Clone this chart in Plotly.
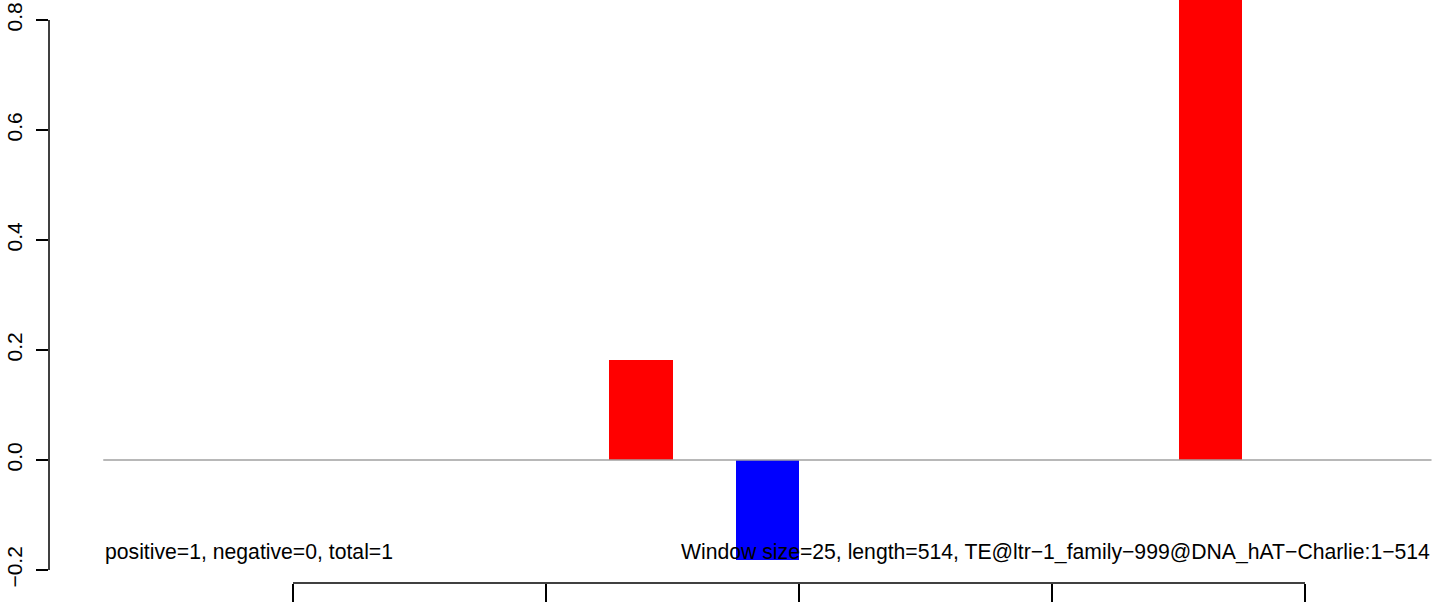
import plotly.graph_objects as go

# ---- data ----
window_starts = [225, 275, 450]          # bp, start of each non-empty window
window_values = [0.182, -0.182, 1.0]     # signed score per window
window_size = 25
baseline_x = [25, 550]                   # extent of the windowed sequence (bp)
x_tickvals = [100, 200, 300, 400, 500]
y_tickvals = [-0.2, 0.0, 0.2, 0.4, 0.6, 0.8]
y_ticktext = ["\u22120.2", "0.0", "0.2", "0.4", "0.6", "0.8"]
left_label = "positive=1, negative=0, total=1"
right_label = "Window size=25, length=514, TE@ltr\u22121_family\u2212999@DNA_hAT\u2212Charlie:1\u2212514"

FONT = "Liberation Sans, Arial, Helvetica, sans-serif"

centers = [s + window_size / 2 for s in window_starts]
colors = ["#FF0000" if v >= 0 else "#0000FF" for v in window_values]

fig = go.Figure()
fig.add_trace(go.Scatter(
    x=baseline_x, y=[0, 0], mode="lines",
    line=dict(color="#A0A0A0", width=1.3), hoverinfo="skip", showlegend=False,
))
fig.add_trace(go.Bar(
    x=centers, y=window_values, width=[window_size] * len(centers),
    marker=dict(color=colors, line=dict(width=0)), showlegend=False,
))

fig.add_annotation(x=baseline_x[0], y=-0.167, text=left_label, xanchor="left",
                   yanchor="middle", showarrow=False,
                   font=dict(family=FONT, size=21.2, color="black"))
fig.add_annotation(x=baseline_x[1], y=-0.167, text=right_label, xanchor="right",
                   yanchor="middle", showarrow=False,
                   font=dict(family=FONT, size=21.2, color="black"))

# R-style axis lines spanning first to last tick
fig.add_shape(type="line", xref="paper", yref="y", x0=0, x1=0,
              y0=min(y_tickvals), y1=max(y_tickvals),
              line=dict(color="black", width=1.5))
fig.add_shape(type="line", xref="x", yref="paper", x0=min(x_tickvals),
              x1=max(x_tickvals), y0=0, y1=0,
              line=dict(color="black", width=1.5))

fig.update_layout(
    width=1444, height=602,
    margin=dict(l=49, r=0, t=0, b=19),
    plot_bgcolor="white", paper_bgcolor="white",
    bargap=0,
    font=dict(family=FONT, size=21, color="black"),
    xaxis=dict(range=[3.557, 554.94], showgrid=False, zeroline=False,
               showline=False, tickmode="array", tickvals=x_tickvals,
               ticks="outside", ticklen=22, tickwidth=1.5, tickcolor="black",
               showticklabels=False, automargin=False),
    yaxis=dict(range=[-0.2236, 0.8364], showgrid=False, zeroline=False,
               showline=False, tickmode="array", tickvals=y_tickvals,
               ticktext=y_ticktext, ticks="outside", ticklen=12, tickwidth=1.5,
               tickcolor="black", tickangle=-90, automargin=False,
               ticklabelstandoff=6,
               tickfont=dict(family=FONT, size=21, color="black")),
)

fig.write_html("out.html", config={"displayModeBar": False},
               post_script="document.body.style.margin='0';document.body.style.overflow='hidden';")
